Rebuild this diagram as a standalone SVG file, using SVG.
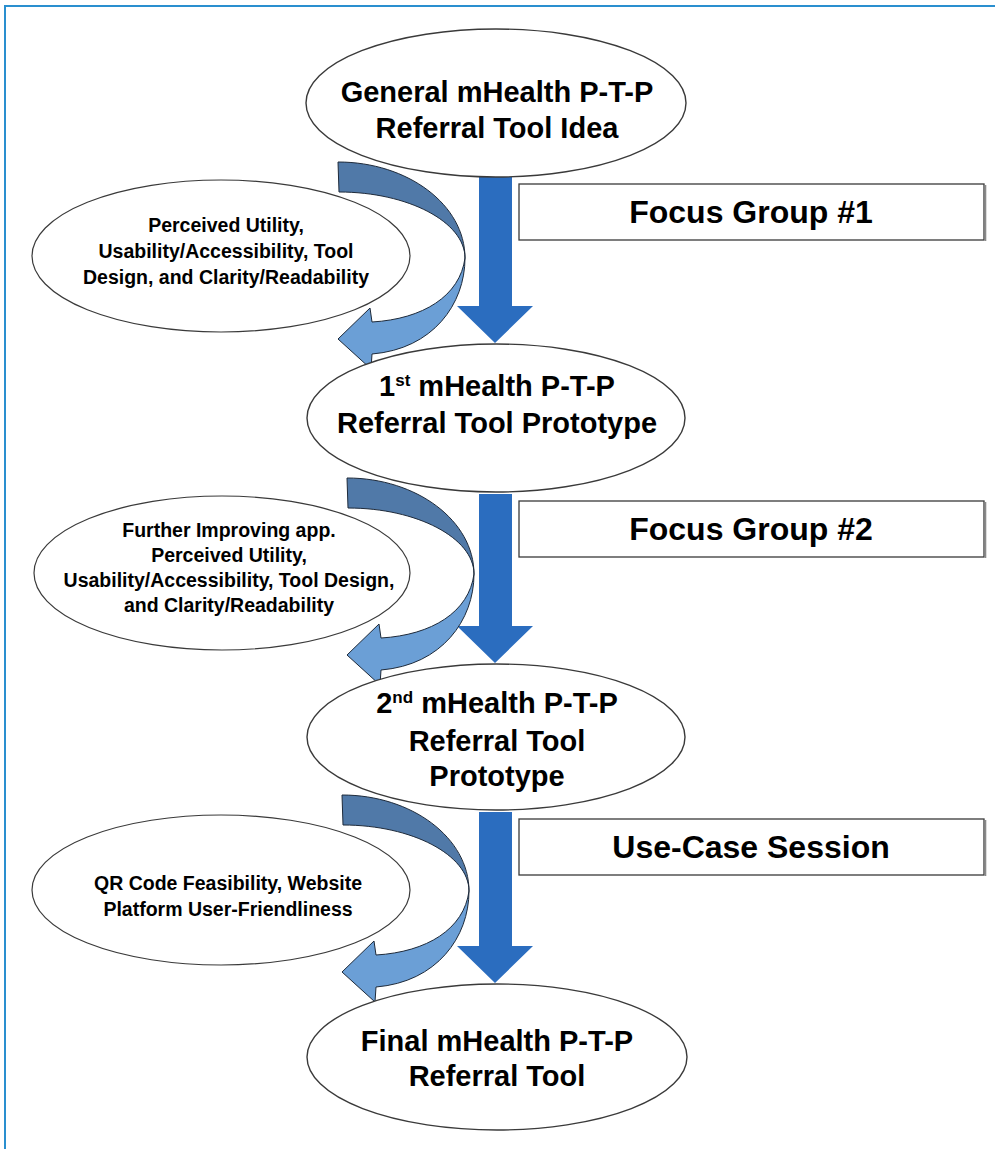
<svg xmlns="http://www.w3.org/2000/svg" xmlns:xlink="http://www.w3.org/1999/xlink" width="995" height="1149" viewBox="0 0 995 1149">
<style>
.bg{fill:#ffffff}
.frame{fill:none;stroke:#2a8fcf;stroke-width:2}
.main{fill:#ffffff;stroke:#3a3a3a;stroke-width:1.4}
.side{fill:#ffffff;stroke:#3a3a3a;stroke-width:1.2}
.box{fill:#ffffff;stroke:#3a3a3a;stroke-width:1.3}
.shadow{stroke:#8a8a8a;stroke-width:1.6}
.down{fill:#2b6dbf}
.dark{fill:#5079a8;stroke:#1e2a3a;stroke-width:1}
.light{fill:#6b9fd6;stroke:#1e2a3a;stroke-width:1}
.tm{font-family:"Liberation Sans",Arial,sans-serif;font-weight:bold;font-size:29px;fill:#000;text-anchor:middle}
.ts{font-family:"Liberation Sans",Arial,sans-serif;font-weight:bold;font-size:19.5px;fill:#000;text-anchor:middle}
.tb{font-family:"Liberation Sans",Arial,sans-serif;font-weight:bold;font-size:32px;fill:#000;text-anchor:middle}
.sup{font-size:17px}
</style>
<defs>
<g id="curved">
<path class="dark" d="M0,0 C70,0 127,43 127,96 C127,60 70,30 1,30 Z"/>
<path class="light" d="M127,96 C127,142 95,187 34,192 L33,207 L0,177 L32,146 L34,160 C85,157 122,134 127,96 Z"/>
</g>
</defs>
<rect class="bg" x="0" y="0" width="995" height="1149"/>
<path class="frame" d="M5,1149 L5,6 L995,6"/>

<g id="side1">
<ellipse class="side" cx="221" cy="256" rx="189" ry="76"/>
<text class="ts" x="226" y="232">Perceived Utility,</text>
<text class="ts" x="226" y="258">Usability/Accessibility, Tool</text>
<text class="ts" x="226" y="284">Design, and Clarity/Readability</text>
</g>
<g id="side2">
<ellipse class="side" cx="222" cy="573" rx="188" ry="77"/>
<text class="ts" x="229" y="537">Further Improving app.</text>
<text class="ts" x="229" y="562">Perceived Utility,</text>
<text class="ts" x="229" y="587">Usability/Accessibility, Tool Design,</text>
<text class="ts" x="229" y="612">and Clarity/Readability</text>
</g>
<g id="side3">
<ellipse class="side" cx="221" cy="890" rx="189" ry="75"/>
<text class="ts" x="228" y="890">QR Code Feasibility, Website</text>
<text class="ts" x="228" y="916">Platform User-Friendliness</text>
</g>

<g id="box1">
<rect class="box" x="519" y="184" width="465" height="56"/>
<line class="shadow" x1="985.5" y1="185" x2="985.5" y2="241"/>
<text class="tb" x="751" y="223">Focus Group #1</text>
</g>
<g id="box2">
<rect class="box" x="519" y="501" width="465" height="56"/>
<line class="shadow" x1="985.5" y1="502" x2="985.5" y2="558"/>
<text class="tb" x="751" y="540">Focus Group #2</text>
</g>
<g id="box3">
<rect class="box" x="519" y="819" width="465" height="56"/>
<line class="shadow" x1="985.5" y1="820" x2="985.5" y2="876"/>
<text class="tb" x="751" y="858">Use-Case Session</text>
</g>

<g id="connectors">
<path class="down" d="M479,177 L512,177 L512,306 L533,306 L495,343 L457,306 L479,306 Z"/>
<path class="down" d="M479,494 L512,494 L512,626 L533,626 L495,663 L457,626 L479,626 Z"/>
<path class="down" d="M479,812 L512,812 L512,946 L533,946 L495,983 L457,946 L479,946 Z"/>
<use xlink:href="#curved" transform="translate(338,162)"/>
<use xlink:href="#curved" transform="translate(347,478)"/>
<use xlink:href="#curved" transform="translate(342,795)"/>
</g>

<g id="node1">
<ellipse class="main" cx="496" cy="103" rx="190" ry="74"/>
<text class="tm" x="497" y="102">General mHealth P-T-P</text>
<text class="tm" x="497" y="138">Referral Tool Idea</text>
</g>
<g id="node2">
<ellipse class="main" cx="496" cy="418" rx="189" ry="74"/>
<text class="tm" x="497" y="396">1<tspan class="sup" dy="-10">st</tspan><tspan dy="10"> mHealth P-T-P</tspan></text>
<text class="tm" x="497" y="433">Referral Tool Prototype</text>
</g>
<g id="node3">
<ellipse class="main" cx="496" cy="737" rx="189" ry="73"/>
<text class="tm" x="497" y="713">2<tspan class="sup" dy="-10">nd</tspan><tspan dy="10"> mHealth P-T-P</tspan></text>
<text class="tm" x="497" y="751">Referral Tool</text>
<text class="tm" x="497" y="786">Prototype</text>
</g>
<g id="node4">
<ellipse class="main" cx="497" cy="1057" rx="190" ry="73"/>
<text class="tm" x="497" y="1051">Final mHealth P-T-P</text>
<text class="tm" x="497" y="1086">Referral Tool</text>
</g>
</svg>
